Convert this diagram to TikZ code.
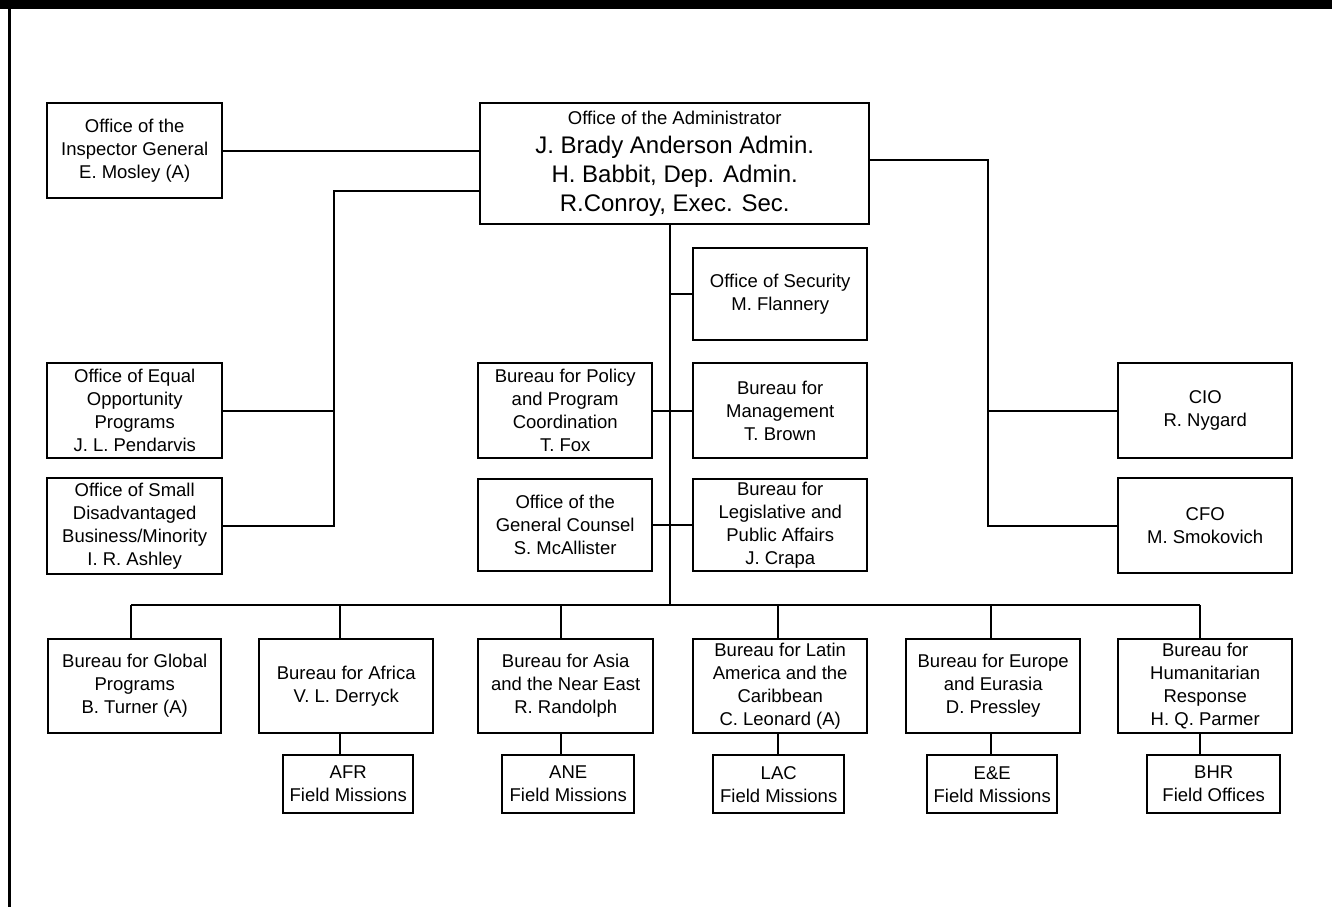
\documentclass[tikz,border=0pt]{standalone}
\usepackage{fontspec}
\setmainfont{Liberation Sans}
\tikzset{
  box/.style={draw, line width=2.4pt, align=center, inner sep=0pt, anchor=north west,
    font=\fontsize{18.5}{23}\selectfont},
  conn/.style={line width=2.4pt},
}
\newcommand\bx[6]{\node[box, minimum width={(#4-#2)*1pt}, minimum height={(#5-#3)*1pt}] (#1) at (#2,#3) {#6};}
\begin{document}
\begin{tikzpicture}[x=1pt,y=-1pt]
\useasboundingbox (0,0) rectangle (1332,907);
% frame
\fill (0,0) rectangle (1332,9);
\draw[line width=3pt] (9.5,0) -- (9.5,907);

% top
\bx{insp}{46}{102}{221}{197}{Office of the\\Inspector General\\E. Mosley (A)}
\node[box, minimum width=389pt, minimum height=121pt, font=\fontsize{24}{29}\selectfont] (admin) at (479,102)
  {{\fontsize{18.5}{29}\selectfont Office of the Administrator}\\J. Brady Anderson Admin.\\H. Babbit, Dep. Admin.\\R.Conroy, Exec. Sec.};

% left
\bx{eeo}{46}{362}{221}{457}{Office of Equal\\Opportunity\\Programs\\J. L. Pendarvis}
\bx{osdbu}{46}{477}{221}{573}{Office of Small\\Disadvantaged\\Business/Minority\\I. R. Ashley}

% centre
\bx{sec}{692}{247}{866}{339}{Office of Security\\M. Flannery}
\bx{ppc}{477}{362}{651}{457}{Bureau for Policy\\and Program\\Coordination\\T. Fox}
\bx{mgmt}{692}{362}{866}{457}{Bureau for\\Management\\T. Brown}
\bx{gc}{477}{478}{651}{570}{Office of the\\General Counsel\\S. McAllister}
\bx{lpa}{692}{478}{866}{570}{Bureau for\\Legislative and\\Public Affairs\\J. Crapa}

% right
\bx{cio}{1117}{362}{1291}{457}{CIO\\R. Nygard}
\bx{cfo}{1117}{477}{1291}{572}{CFO\\M. Smokovich}

% bureaus
\bx{glob}{47}{638}{220}{732}{Bureau for Global\\Programs\\B. Turner (A)}
\bx{afr}{258}{638}{432}{732}{Bureau for Africa\\V. L. Derryck}
\bx{ane}{477}{638}{652}{732}{Bureau for Asia\\and the Near East\\R. Randolph}
\bx{lac}{692}{638}{866}{732}{Bureau for Latin\\America and the\\Caribbean\\C. Leonard (A)}
\bx{ee}{905}{638}{1079}{732}{Bureau for Europe\\and Eurasia\\D. Pressley}
\bx{bhr}{1117}{638}{1291}{732}{Bureau for\\Humanitarian\\Response\\H. Q. Parmer}

% field
\bx{afrf}{282}{754}{412}{812}{AFR\\Field Missions}
\bx{anef}{501}{754}{633}{812}{ANE\\Field Missions}
\bx{lacf}{712}{754}{843}{812}{LAC\\Field Missions}
\bx{eef}{926}{754}{1056}{812}{E\&E\\Field Missions}
\bx{bhrf}{1146}{754}{1279}{812}{BHR\\Field Offices}

% coordinates
\coordinate (lx) at (334,191);
\coordinate (rx) at (988,160);
\coordinate (sp) at (670,605);
\coordinate (dglob) at (131,605);
\coordinate (dafr) at (340,605);
\coordinate (dane) at (561,605);
\coordinate (dlac) at (778,605);
\coordinate (dee) at (991,605);
\coordinate (dbhr) at (1200,605);

% connectors
\draw[conn] (insp.east) -- (insp.east -| admin.west);
\draw[conn] (lx -| admin.west) -- (lx) -- (lx |- osdbu.east) -- (osdbu.east);
\draw[conn] (eeo.east) -- (eeo.east -| lx);
\draw[conn] (rx -| admin.east) -- (rx) -- (rx |- cfo.west) -- (cfo.west);
\draw[conn] (cio.west) -- (cio.west -| rx);
\draw[conn] (sp |- admin.south) -- (sp);
\draw[conn] (sp |- sec.west) -- (sec.west);
\draw[conn] (ppc.east) -- (mgmt.west);
\draw[conn] (gc.east) -- (lpa.west);
\draw[conn] (dglob) -- (dbhr);
\draw[conn] (dglob) -- (dglob |- glob.north);
\foreach \b in {afr,ane,lac,ee,bhr}{
  \draw[conn] (d\b) -- (d\b |- \b.north);
  \draw[conn] (d\b |- \b.south) -- (d\b |- \b f.north);
}
\end{tikzpicture}
\end{document}
